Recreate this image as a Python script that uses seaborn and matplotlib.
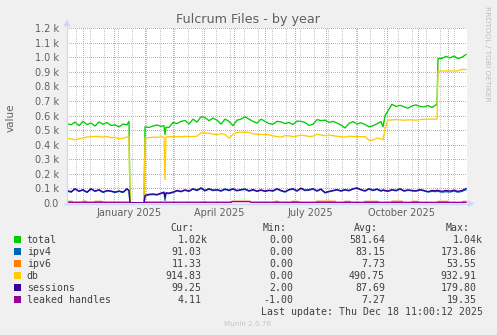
import numpy as np
import pandas as pd
import matplotlib
matplotlib.use("Agg")
import matplotlib.pyplot as plt
import matplotlib.transforms as mtransforms
from matplotlib.lines import Line2D
from matplotlib.patches import Polygon, Rectangle
import seaborn as sns

# ---------------- data ----------------
START = pd.Timestamp("2024-11-15")

days = [0, 4, 8, 12, 16, 20, 24, 28, 32, 36, 40, 44, 48, 52, 56, 60, 62, 63, 77, 78,
        82, 86, 90, 94, 97, 98, 99, 102, 106, 110, 114, 118, 122, 126, 130, 134, 138, 142, 146, 150,
        154, 158, 162, 166, 170, 174, 178, 182, 186, 190, 194, 198, 202, 206, 210, 214, 218, 222, 226, 230,
        234, 238, 242, 246, 250, 254, 258, 262, 266, 270, 274, 278, 282, 286, 290, 294, 298, 302, 306, 310,
        314, 316, 318, 321, 325, 329, 333, 337, 341, 345, 349, 353, 357, 361, 365, 369, 370, 371, 375, 379,
        383, 387, 391, 395, 399]

total = [545, 536, 555, 530, 560, 538, 548, 528, 556, 540, 552, 532, 535, 522, 541, 536, 560, 0, 0, 522,
         518, 528, 535, 526, 530, 470, 520, 518, 552, 545, 559, 566, 541, 575, 555, 591, 586, 564, 582, 568,
         541, 575, 560, 530, 568, 575, 591, 575, 560, 548, 575, 560, 545, 540, 560, 556, 545, 552, 538, 562,
         560, 552, 532, 540, 572, 565, 568, 553, 560, 548, 535, 515, 545, 558, 542, 550, 538, 522, 530, 543,
         558, 522, 598, 632, 677, 662, 670, 660, 650, 666, 673, 662, 659, 668, 655, 673, 678, 990, 992, 1005,
         995, 1008, 990, 1000, 1018]

db = [445, 440, 433, 440, 447, 452, 455, 457, 455, 452, 456, 447, 451, 440, 444, 452, 455, 0, 0, 445,
      448, 452, 450, 453, 452, 160, 452, 455, 455, 456, 454, 457, 455, 456, 458, 482, 480, 478, 472, 470,
      474, 470, 445, 470, 484, 486, 485, 484, 475, 472, 470, 470, 468, 460, 455, 452, 462, 461, 455, 460,
      465, 462, 456, 458, 472, 466, 462, 466, 462, 458, 455, 452, 458, 456, 455, 455, 455, 430, 432, 445,
      440, 432, 507, 568, 570, 572, 570, 568, 570, 570, 568, 572, 574, 574, 575, 575, 575, 905, 905, 905,
      905, 905, 906, 916, 915]

sessions = [86, 77, 98, 82, 91, 75, 98, 82, 91, 75, 86, 82, 75, 82, 75, 98, 86, 2, 2, 52,
            60, 62, 58, 68, 75, 40, 70, 68, 75, 86, 80, 90, 82, 98, 88, 104, 86, 98, 88, 92,
            84, 96, 88, 98, 86, 92, 96, 84, 92, 82, 90, 82, 88, 84, 98, 86, 78, 92, 98, 84,
            102, 88, 91, 98, 84, 96, 72, 80, 86, 92, 84, 92, 86, 98, 104, 92, 84, 98, 88, 96,
            84, 90, 86, 82, 92, 86, 98, 84, 90, 86, 84, 92, 86, 78, 86, 84, 88, 86, 80, 86,
            82, 88, 80, 86, 99]

ipv4 = [82, 74, 95, 80, 88, 72, 95, 80, 88, 72, 83, 80, 72, 80, 72, 95, 84, 0, 0, 48,
        56, 58, 55, 64, 70, 18, 66, 64, 72, 83, 77, 87, 79, 95, 85, 100, 83, 95, 85, 89,
        81, 93, 85, 95, 83, 89, 93, 81, 89, 79, 87, 79, 85, 81, 95, 83, 75, 89, 95, 81,
        99, 85, 88, 95, 81, 93, 69, 77, 83, 89, 81, 89, 83, 95, 101, 89, 81, 95, 85, 93,
        81, 87, 83, 79, 89, 83, 95, 81, 87, 83, 81, 89, 83, 75, 80, 78, 82, 80, 74, 78,
        75, 82, 74, 80, 91]

ipv6_days = [0, 5, 6, 15, 16, 19, 20, 27, 28, 35, 36, 62, 63, 77, 78, 137, 138, 139, 164, 165,
             183, 184, 207, 208, 211, 212, 224, 225, 231, 232, 249, 250, 268, 269, 277, 278, 283, 284,
             297, 298, 311, 312, 324, 325, 335, 336, 344, 345, 351, 352, 370, 371, 381, 382, 395, 396, 399]
ipv6 = [11, 11, 3, 3, 12, 12, 3, 3, 11, 11, 3, 3, 0, 0, 3, 3, 10, 3, 3, 11,
        11, 3, 3, 11, 11, 3, 3, 11, 11, 3, 3, 12, 12, 3, 3, 11, 11, 3,
        3, 11, 11, 3, 3, 12, 12, 3, 3, 11, 11, 3, 3, 11, 11, 3, 3, 11, 11]

leaked_days = [0, 62, 63, 77, 78, 164, 165, 183, 184, 399]
leaked = [5, 5, -1, -1, 5, 5, 10, 10, 5, 4]

series_names = ["total", "ipv4", "ipv6", "db", "sessions", "leaked handles"]
series_colors = ["#00CC00", "#0066B3", "#FF8000", "#FFCC00", "#330099", "#990099"]

cur = ["1.02k", "91.03", "11.33", "914.83", "99.25", "4.11"]
mins = ["0.00", "0.00", "0.00", "0.00", "2.00", "-1.00"]
avgs = ["581.64", "83.15", "7.73", "490.75", "87.69", "7.27"]
maxs = ["1.04k", "173.86", "53.55", "932.91", "179.80", "19.35"]

month_labels = ["January 2025", "April 2025", "July 2025", "October 2025"]
month_label_dates = ["2025-01-16", "2025-04-16", "2025-07-16", "2025-10-16"]
ytick_vals = [0, 100, 200, 300, 400, 500, 600, 700, 800, 900, 1000, 1100, 1200]
ytick_labels = ["0.0", "0.1 k", "0.2 k", "0.3 k", "0.4 k", "0.5 k", "0.6 k",
                "0.7 k", "0.8 k", "0.9 k", "1.0 k", "1.1 k", "1.2 k"]

# ---------------- build table ----------------
def to_dates(d):
    return START + pd.to_timedelta(d, unit="D")

frames = []
for name, dd, vv in [("total", days, total), ("ipv4", days, ipv4), ("ipv6", ipv6_days, ipv6),
                     ("db", days, db), ("sessions", days, sessions), ("leaked handles", leaked_days, leaked)]:
    frames.append(pd.DataFrame({"date": to_dates(dd), "value": vv, "series": name}))
df = pd.concat(frames, ignore_index=True)

# ---------------- figure ----------------
W, H = 497, 335
fig = plt.figure(figsize=(W / 100, H / 100), dpi=100, facecolor="#F0F0F0")

def fx(x):
    return x / W

def fy(y):
    return 1 - y / H

L, R, T, B = 67, 467, 28, 203
ax = fig.add_axes([fx(L), fy(B), (R - L) / W, (B - T) / H])
ax.set_facecolor("white")

sns.lineplot(data=df, x="date", y="value", hue="series", hue_order=series_names,
             palette=dict(zip(series_names, series_colors)), estimator=None, sort=False,
             linewidth=0.95, legend=False, ax=ax, zorder=3)

ax.set_xlim(START, START + pd.Timedelta(days=400))
ax.set_ylim(0, 1200)
for s in ax.spines.values():
    s.set_visible(False)

# grid (dotted, 1px on / 1px off)
red = "#F09A9A"
grey = "#C8C8C8"
month_starts = pd.date_range("2024-12-01", "2025-12-01", freq="MS")
biweekly = pd.date_range("2024-11-24", "2025-12-19", freq="14D")
ax.set_xticks(month_starts)
ax.set_xticks(biweekly, minor=True)
ax.set_xticklabels([])
ax.set_xticklabels([], minor=True)
ax.set_yticks(ytick_vals)
ax.set_yticklabels(ytick_labels)
ax.tick_params(axis="both", which="both", length=0)
ax.tick_params(axis="y", pad=6, labelsize=7, labelcolor="#606060")
gkw = dict(linestyle=(0.5, (1, 1)), linewidth=0.72, antialiased=True)
ax.grid(axis="x", which="minor", color=grey, **gkw)
ax.grid(axis="x", which="major", color=red, **gkw)
ax.grid(axis="y", which="major", color=red, **gkw)
ax.set_axisbelow(True)
ax.set_xlabel("")
ax.set_ylabel("")

blend = mtransforms.blended_transform_factory(ax.transData, fig.transFigure)
for lab, d in zip(month_labels, month_label_dates):
    ax.text(pd.Timestamp(d), fy(212.5), lab, transform=blend,
            ha="center", va="center", fontsize=7, color="#606060")

# axis lines with arrows
axc = "#CFD6F8"
fig.add_artist(Line2D([fx(L), fx(L)], [fy(B + 0.5), fy(24)], color=axc, lw=0.9, transform=fig.transFigure))
fig.add_artist(Line2D([fx(L - 3), fx(470)], [fy(B + 0.5), fy(B + 0.5)], color=axc, lw=0.9, transform=fig.transFigure))
fig.add_artist(Polygon([[fx(L - 3), fy(26)], [fx(L + 3), fy(26)], [fx(L), fy(20)]], closed=True,
                       facecolor=axc, edgecolor=axc, lw=0.5, transform=fig.transFigure))
fig.add_artist(Polygon([[fx(468), fy(B - 2.5)], [fx(468), fy(B + 3.5)], [fx(474), fy(B + 0.5)]], closed=True,
                       facecolor=axc, edgecolor=axc, lw=0.5, transform=fig.transFigure))

# title and side texts
fig.text(fx(248), fy(23.3), "Fulcrum Files - by year", ha="center", va="baseline",
         fontsize=9.2, color="#606060")
fig.text(fx(11), fy(118), "value", ha="center", va="center", rotation=90, fontsize=7.5, color="#606060")
fig.text(fx(487.5), fy(53.5), "RRDTOOL / TOBI OETIKER", ha="center", va="center", rotation=-90,
         fontsize=5.4, color="#BDBDBD")

# legend
mono = dict(family="DejaVu Sans Mono", fontsize=7.15, color="#404040")
cw = 5.97
def base(yc):
    return fy(yc + 3.6)

hdr_y = 227.3
for lab, rx in [("Cur:", 194.7), ("Min:", 286.7), ("Avg:", 378.3), ("Max:", 470.0)]:
    fig.text(fx(rx), base(hdr_y), lab, ha="right", va="baseline", **mono)

row_y = [239.4, 251.5, 263.5, 275.5, 287.6, 299.6]
for i, name in enumerate(series_names):
    yc = row_y[i]
    fig.add_artist(Rectangle((fx(14), fy(yc + 3.5)), 7 / W, 7 / H, facecolor=series_colors[i],
                             edgecolor="none", transform=fig.transFigure))
    fig.text(fx(26.7), base(yc), name, ha="left", va="baseline", **mono)
    for vals, rx in [(cur, 201.7), (mins, 293.3), (avgs, 385.0), (maxs, 476.7)]:
        s = vals[i]
        x = rx + cw if s.endswith("k") else rx
        fig.text(fx(x), base(yc), s, ha="right", va="baseline", **mono)

fig.text(fx(482.7), base(311.2), "Last update: Thu Dec 18 11:00:12 2025", ha="right", va="baseline", **mono)
fig.text(fx(248), fy(324.3), "Munin 2.0.76", ha="center", va="center", fontsize=5.2, color="#C4C4C4")

fig.savefig("out.png", dpi=100, facecolor=fig.get_facecolor())
